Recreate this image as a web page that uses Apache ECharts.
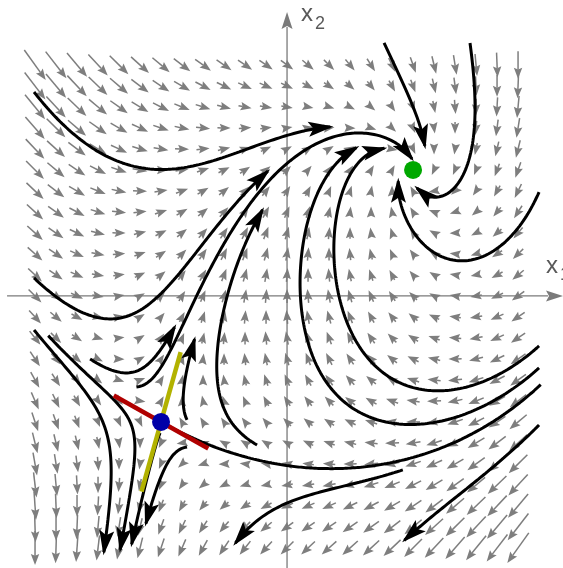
<!DOCTYPE html>
<html>
<head>
<meta charset="utf-8">
<script src="https://cdn.jsdelivr.net/npm/echarts@6/dist/echarts.min.js"></script>
<style>
  html, body { margin: 0; padding: 0; background: #ffffff; }
  #chart { width: 563px; height: 568px; }
</style>
</head>
<body>
<div id="chart"></div>
<script>
// Phase portrait of the planar system
//   x1' = x2 - x1
//   x2' = 2 - x1^2 - x2^2
// with its direction field, a set of trajectories, the two equilibria
// and the eigen-directions of the saddle.

const viewX = [-2.278, 2.190];          // visible x1 range
const viewY = [-2.159, 2.349];          // visible x2 range
const axisX = [-2.222, 2.190];          // drawn x1 axis extent
const axisY = [-2.159, 2.254];          // drawn x2 axis extent

const fieldStep = 1 / 6;
const fieldCols = [-12, -11, -10, -9, -8, -7, -6, -5, -4, -3, -2, -1, 0, 1, 2, 3, 4, 5, 6, 7, 8, 9, 10, 11];
const fieldRows = [-12, -11, -10, -9, -8, -7, -6, -5, -4, -3, -2, -1, 0, 1, 2, 3, 4, 5, 6, 7, 8, 9, 10, 11];

const stableFocus = [1, 1];
const saddlePoint = [-1, -1];
const stableHalfLen = 0.43;    // half length of the stable eigen-segment
const unstableHalfLen = 0.575; // half length of the unstable eigen-segment

// trajectory seeds, optional points they pass through, and where each one ends (arrow tips)
const streamStarts = [
  [-2.008, 1.619], [-2.008, 0.143], [-1.183, -0.865], [0.770, 2.008],
  [1.452, 2.008], [2.000, 0.825], [2.000, -0.397], [2.000, -0.571],
  [2.000, -1.024], [0.913, -1.357], [-0.238, -1.183], [-0.794, -0.984],
  [-1.563, -0.500], [-2.008, -0.270], [-1.881, -0.302], [-1.008, -1.087],
  [-0.794, -1.198]
];
const streamVia = [
  null, null, [-1.032, -0.611], null,
  null, null, null, null,
  null, [-0.111, -1.698], null, null,
  null, null, [-1.210, -1.143], null,
  null
];
const streamEnds = [
  [0.341, 1.365], [-0.167, 1.008], [1.000, 1.095], [1.071, 1.183],
  [1.032, 0.865], [0.825, 0.921], [0.770, 1.190], [0.540, 1.206],
  [0.944, -1.952], [-0.429, -1.952], [-0.230, 0.706], [-0.770, -0.333],
  [-0.889, -0.246], [-1.468, -2.032], [-1.302, -2.016], [-1.198, -1.976],
  [-1.079, -1.817]
];
// right branch of the saddle's stable manifold reaches this point
const manifoldRightEnd = [2.000, -0.683];

function field(x1, x2) {
  return [x2 - x1, 2 - x1 * x1 - x2 * x2];
}
function jacobian(x1, x2) {
  return [[-1, 1], [-2 * x1, -2 * x2]];
}
function unitField(p, dir) {
  const f = field(p[0], p[1]);
  const n = Math.hypot(f[0], f[1]) || 1e-12;
  return [dir * f[0] / n, dir * f[1] / n];
}
function rk4(p, h, dir) {
  const k1 = unitField(p, dir);
  const k2 = unitField([p[0] + h / 2 * k1[0], p[1] + h / 2 * k1[1]], dir);
  const k3 = unitField([p[0] + h / 2 * k2[0], p[1] + h / 2 * k2[1]], dir);
  const k4 = unitField([p[0] + h * k3[0], p[1] + h * k3[1]], dir);
  return [p[0] + h / 6 * (k1[0] + 2 * k2[0] + 2 * k3[0] + k4[0]),
          p[1] + h / 6 * (k1[1] + 2 * k2[1] + 2 * k3[1] + k4[1])];
}
// follow the flow from a seed until it passes closest to its end point
function traceTo(start, end, dir) {
  const h = 0.004;
  let p = start.slice();
  const pts = [p];
  let best = Infinity, bestIdx = 0;
  for (let i = 0; i < 5000; i++) {
    p = rk4(p, h, dir);
    pts.push(p);
    const d = Math.hypot(p[0] - end[0], p[1] - end[1]);
    if (d < best) { best = d; bestIdx = pts.length - 1; }
    else if (best < 0.07 && d > best + 0.01) break;
  }
  return pts.slice(0, bestIdx + 1);
}
function traceStream(start, via, end) {
  if (!via) return traceTo(start, end, 1);
  const back = traceTo(via, start, -1).reverse();
  const fwd = traceTo(via, end, 1);
  return back.concat(fwd.slice(1));
}
function eigenVectors(J) {
  const a = J[0][0], b = J[0][1], c = J[1][0], d = J[1][1];
  const tr = a + d, det = a * d - b * c;
  const disc = Math.sqrt(tr * tr / 4 - det);
  const lu = tr / 2 + disc, ls = tr / 2 - disc;
  const vu = [b, lu - a], vs = [b, ls - a];
  const nu = Math.hypot(vu[0], vu[1]), ns = Math.hypot(vs[0], vs[1]);
  return { unstable: [vu[0] / nu, vu[1] / nu], stable: [vs[0] / ns, vs[1] / ns] };
}

// direction field samples
const fieldData = [];
fieldRows.forEach(r => fieldCols.forEach(c => {
  const x1 = c * fieldStep, x2 = r * fieldStep;
  const f = field(x1, x2);
  fieldData.push([x1, x2, f[0], f[1]]);
}));

// trajectories
const streams = streamStarts.map((s, i) => traceStream(s, streamVia[i], streamEnds[i]));
const heads = streams.map(pts => {
  const end = pts[pts.length - 1];
  const back = pts[Math.max(0, pts.length - 20)];
  return [end[0], end[1], back[0], back[1]];
});

// saddle eigen-directions and the stable manifold branch to the right
const ev = eigenVectors(jacobian(saddlePoint[0], saddlePoint[1]));
const sDir = ev.stable[0] > 0 ? ev.stable : [-ev.stable[0], -ev.stable[1]];
const uDir = ev.unstable[1] > 0 ? ev.unstable : [-ev.unstable[0], -ev.unstable[1]];
const manifold = traceTo([saddlePoint[0] + 0.003 * sDir[0], saddlePoint[1] + 0.003 * sDir[1]], manifoldRightEnd, -1);
const stableSeg = [
  [saddlePoint[0] - stableHalfLen * sDir[0], saddlePoint[1] - stableHalfLen * sDir[1]],
  [saddlePoint[0] + stableHalfLen * sDir[0], saddlePoint[1] + stableHalfLen * sDir[1]]
];
const unstableSeg = [
  [saddlePoint[0] - unstableHalfLen * uDir[0], saddlePoint[1] - unstableHalfLen * uDir[1]],
  [saddlePoint[0] + unstableHalfLen * uDir[0], saddlePoint[1] + unstableHalfLen * uDir[1]]
];

const GRAY = '#7e7e7e';

function pixelDir(api, p, v) {
  const a = api.coord(p);
  const b = api.coord([p[0] + v[0] * 1e-3, p[1] + v[1] * 1e-3]);
  let dx = b[0] - a[0], dy = b[1] - a[1];
  const n = Math.hypot(dx, dy) || 1;
  return [a, dx / n, dy / n];
}

function renderFieldArrow(params, api) {
  const x1 = api.value(0), x2 = api.value(1), fx = api.value(2), fy = api.value(3);
  const mag = Math.hypot(fx, fy);
  const [c, dx, dy] = pixelDir(api, [x1, x2], [fx, fy]);
  const L = Math.max(11, 4 + 5 * mag);
  const tail = [c[0] - dx * L / 2, c[1] - dy * L / 2];
  const tip = [c[0] + dx * L / 2, c[1] + dy * L / 2];
  const hl = 11, hw = 4.2;
  const base = [tip[0] - dx * hl, tip[1] - dy * hl];
  const nx = -dy, ny = dx;
  const children = [];
  if (L > hl) {
    children.push({ type: 'line', shape: { x1: tail[0], y1: tail[1], x2: base[0] + dx * 2, y2: base[1] + dy * 2 },
      style: { stroke: GRAY, lineWidth: 1.5 } });
  }
  children.push({ type: 'polygon', shape: { points: [tip,
      [base[0] + nx * hw, base[1] + ny * hw], [base[0] + dx * 1.8, base[1] + dy * 1.8],
      [base[0] - nx * hw, base[1] - ny * hw]] }, style: { fill: GRAY } });
  return { type: 'group', children };
}

function renderStreamHead(params, api) {
  const e = [api.value(0), api.value(1)], b = [api.value(2), api.value(3)];
  const pe = api.coord(e), pb = api.coord(b);
  let dx = pe[0] - pb[0], dy = pe[1] - pb[1];
  const n = Math.hypot(dx, dy) || 1; dx /= n; dy /= n;
  const tip = [pe[0] + dx * 3, pe[1] + dy * 3];
  const hl = 25, hw = 7.5, notch = 5;
  const base = [tip[0] - dx * hl, tip[1] - dy * hl];
  const nx = -dy, ny = dx;
  return { type: 'polygon', shape: { points: [tip,
      [base[0] + nx * hw, base[1] + ny * hw], [base[0] + dx * notch, base[1] + dy * notch],
      [base[0] - nx * hw, base[1] - ny * hw]] }, style: { fill: '#000000' } };
}

function renderAxes(params, api) {
  const xa = api.coord([axisX[0], 0]), xb = api.coord([axisX[1], 0]);
  const ya = api.coord([0, axisY[0]]), yb = api.coord([0, axisY[1]]);
  const col = '#7a7a7a', hl = 17, hw = 5.5;
  const lab = '#595959';
  const big = '24px "Liberation Sans", Arial, sans-serif';
  const small = '18px "Liberation Sans", Arial, sans-serif';
  return { type: 'group', children: [
    { type: 'line', shape: { x1: xa[0], y1: xa[1], x2: xb[0] - hl + 2, y2: xb[1] }, style: { stroke: col, lineWidth: 1.3 } },
    { type: 'polygon', shape: { points: [[xb[0], xb[1]], [xb[0] - hl, xb[1] - hw], [xb[0] - hl + 3, xb[1]], [xb[0] - hl, xb[1] + hw]] }, style: { fill: col } },
    { type: 'line', shape: { x1: ya[0], y1: ya[1], x2: yb[0], y2: yb[1] + hl - 2 }, style: { stroke: col, lineWidth: 1.3 } },
    { type: 'polygon', shape: { points: [[yb[0], yb[1]], [yb[0] - hw, yb[1] + hl], [yb[0], yb[1] + hl - 3], [yb[0] + hw, yb[1] + hl]] }, style: { fill: col } },
    { type: 'text', x: xb[0] - 17, y: xb[1] - 18, style: { text: 'x', fill: lab, font: big, textVerticalAlign: 'bottom' } },
    { type: 'text', x: xb[0] - 3, y: xb[1] - 12, style: { text: '1', fill: lab, font: small, textVerticalAlign: 'bottom' } },
    { type: 'text', x: yb[0] + 14, y: yb[1] + 14, style: { text: 'x', fill: lab, font: big, textVerticalAlign: 'bottom' } },
    { type: 'text', x: yb[0] + 28, y: yb[1] + 21, style: { text: '2', fill: lab, font: small, textVerticalAlign: 'bottom' } }
  ] };
}

const series = [];
series.push({ type: 'custom', renderItem: renderFieldArrow, data: fieldData, encode: { x: 0, y: 1 }, z: 1, silent: true, clip: false });
series.push({ type: 'custom', renderItem: renderAxes, data: [[0, 0]], encode: { x: 0, y: 1 }, z: 2, silent: true, clip: false });
streams.forEach(pts => series.push({ type: 'line', data: pts, showSymbol: false, symbol: 'none', z: 3, silent: true,
  lineStyle: { color: '#000000', width: 3 } }));
series.push({ type: 'line', data: manifold, showSymbol: false, symbol: 'none', z: 3, silent: true,
  lineStyle: { color: '#000000', width: 3 } });
series.push({ type: 'custom', renderItem: renderStreamHead, data: heads, encode: { x: 0, y: 1 }, z: 4, silent: true, clip: false });
series.push({ type: 'line', data: unstableSeg, showSymbol: false, symbol: 'none', z: 5, silent: true,
  lineStyle: { color: '#b2b200', width: 4.5, cap: 'butt' } });
series.push({ type: 'line', data: stableSeg, showSymbol: false, symbol: 'none', z: 5, silent: true,
  lineStyle: { color: '#b00000', width: 4.5, cap: 'butt' } });
series.push({ type: 'scatter', data: [stableFocus], symbolSize: 18, z: 6, silent: true, itemStyle: { color: '#00a800', opacity: 1 } });
series.push({ type: 'scatter', data: [saddlePoint], symbolSize: 18, z: 6, silent: true, itemStyle: { color: '#0000a8', opacity: 1 } });

const chart = echarts.init(document.getElementById('chart'), null, { renderer: 'canvas' });
chart.setOption({
  animation: false,
  backgroundColor: '#ffffff',
  grid: { left: 0, right: 0, top: 0, bottom: 0 },
  xAxis: { type: 'value', min: viewX[0], max: viewX[1], show: false },
  yAxis: { type: 'value', min: viewY[0], max: viewY[1], show: false },
  series
});
</script>
</body>
</html>
